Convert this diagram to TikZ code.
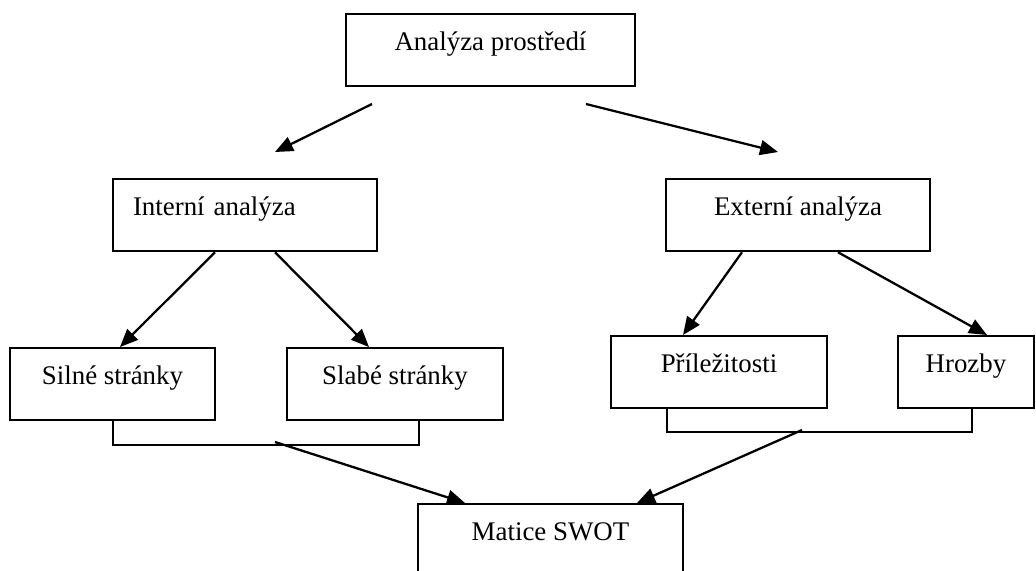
\documentclass[tikz,border=0pt]{standalone}
\usepackage{fontspec}
\setmainfont{Liberation Serif}
\usetikzlibrary{arrows.meta}
\tikzset{
  box/.style={draw, line width=1.3pt, anchor=north, inner xsep=0pt, inner ysep=0pt,
    text height=0.72cm, text depth=0.72cm, minimum width=#1, font=\fontsize{15.3}{18}\selectfont},
  arr/.style={line width=1.3pt, -{Triangle[length=0.36cm,width=0.3cm]}},
  wire/.style={line width=1.3pt}
}
\begin{document}
\begin{tikzpicture}[x=0.02cm,y=-0.02cm]
\useasboundingbox (0,0) rectangle (1036,571);
\node[box=5.78cm] (anal) at (490.5,13) {Analýza prostředí};
\node[box=5.28cm, text width=4.48cm, inner xsep=0.4cm, align=left] (int) at (245,178) {Interní analýza};
\node[box=5.28cm] (ext) at (798,178) {Externí analýza};
\node[box=4.1cm] (silne) at (112.5,347) {Silné stránky};
\node[box=4.32cm] (slabe) at (395,347) {Slabé stránky};
\node[box=4.32cm] (prilez) at (719,335) {Příležitosti};
\node[box=2.72cm] (hrozby) at (966,335) {Hrozby};
\node[box=5.3cm, text depth=1.2cm] (swot) at (550.5,503) {Matice SWOT};
\coordinate (a1) at (372,104);
\coordinate (a2) at (275,152);
\coordinate (a3) at (586,104);
\coordinate (a4) at (778,152);
\draw[arr] (a1) -- (a2);
\draw[arr] (a3) -- (a4);
\draw[arr] (int.south -| 215,0) -- (silne.north -| 120,0);
\draw[arr] (int.south -| 275,0) -- (slabe.north -| 369,0);
\draw[arr] (ext.south -| 742,0) -- (prilez.north -| 683,0);
\draw[arr] (ext.south -| 838,0) -- (hrozby.north -| 987,0);
\draw[wire] (silne.south -| 113,0) -- ++(0,24) -| (slabe.south -| 419,0);
\draw[wire] (prilez.south -| 667,0) -- ++(0,23) -| (hrozby.south -| 972,0);
\coordinate (sw) at (275,442);
\coordinate (ot) at (802,430);
\draw[arr] (sw) -- (swot.north -| 465,0);
\draw[arr] (ot) -- (swot.north -| 637,0);
\end{tikzpicture}
\end{document}
